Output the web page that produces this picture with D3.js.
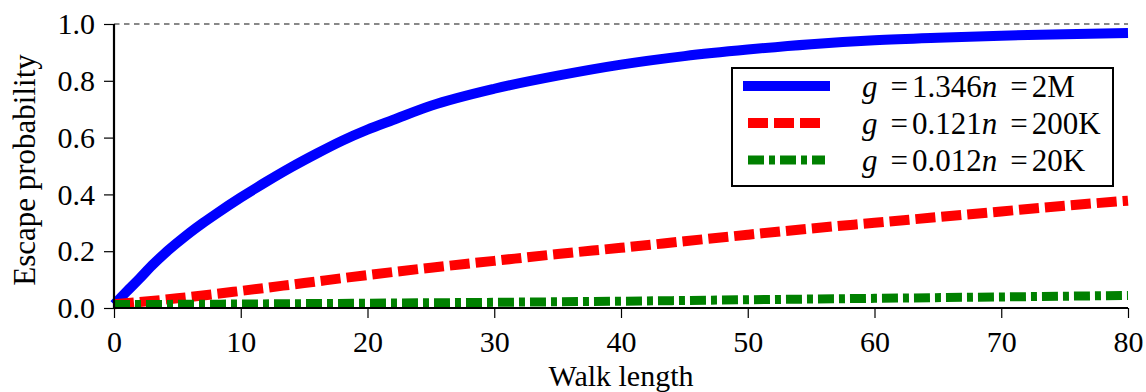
<!DOCTYPE html>
<html>
<head>
<meta charset="utf-8">
<script src="https://cdn.jsdelivr.net/npm/d3@7"></script>
<style>
  body { margin: 0; background: #fff; }
  svg { display: block; font-family: "Liberation Serif", "Times New Roman", serif; }
</style>
</head>
<body>
<div id="vis"></div>
<script>
// data
var walkBlue = [0, 1, 2, 3, 4, 5, 6, 7, 8, 9, 10, 12, 14, 16, 18, 20, 22, 25, 30, 35, 40, 45, 50, 55, 60, 65, 70, 75, 80];
var probBlue = [0.012, 0.058, 0.103, 0.15, 0.192, 0.23, 0.266, 0.299, 0.33, 0.36, 0.389, 0.444, 0.496, 0.544, 0.589, 0.628, 0.662, 0.712, 0.772, 0.818, 0.857, 0.887, 0.91, 0.929, 0.943, 0.952, 0.959, 0.964, 0.968];
var walkRed = [0, 5, 10, 15, 20, 25, 30, 35, 40, 45, 50, 55, 60, 65, 70, 75, 80];
var probRed = [0.013, 0.034, 0.06, 0.088, 0.116, 0.142, 0.166, 0.19, 0.212, 0.235, 0.258, 0.28, 0.30, 0.32, 0.34, 0.36, 0.378];
var walkGreen = [0, 10, 20, 30, 40, 50, 60, 70, 80];
var probGreen = [0.012, 0.014, 0.017, 0.02, 0.024, 0.029, 0.034, 0.039, 0.044];
var xTicks = [0, 10, 20, 30, 40, 50, 60, 70, 80];
var yTicks = [0.0, 0.2, 0.4, 0.6, 0.8, 1.0];
var seriesLabels = [
  ["g", "=", "1.346", "n", "=", "2M"],
  ["g", "=", "0.121", "n", "=", "200K"],
  ["g", "=", "0.012", "n", "=", "20K"]
];

var width = 1146;
var height = 392;
var margin = { top: 24, right: 18, bottom: 84, left: 114 };

var svg = d3.select('#vis').append('svg')
  .attr('width', width)
  .attr('height', height);

var x = d3.scaleLinear().domain([0, 80]).range([margin.left, width - margin.right]);
var y = d3.scaleLinear().domain([0, 1]).range([height - margin.bottom, margin.top]);

var series = [
  { xs: walkBlue, ys: probBlue, color: '#0000ff', w: 10, dash: null },
  { xs: walkRed, ys: probRed, color: '#ff0000', w: 10, dash: '20,6' },
  { xs: walkGreen, ys: probGreen, color: '#008000', w: 9, dash: '16,5,6,5' }
];

// reference line at 1.0
svg.append('line')
  .attr('x1', x(0)).attr('x2', x(80))
  .attr('y1', y(1)).attr('y2', y(1))
  .attr('stroke', '#888')
  .attr('stroke-width', 2.2)
  .attr('stroke-dasharray', '5.5,4.5');

var line = d3.line()
  .x(function (d) { return x(d[0]); })
  .y(function (d) { return y(d[1]); })
  .curve(d3.curveMonotoneX);

series.forEach(function (s) {
  var pts = s.xs.map(function (v, i) { return [v, s.ys[i]]; });
  svg.append('path')
    .datum(pts)
    .attr('d', line)
    .attr('fill', 'none')
    .attr('stroke', s.color)
    .attr('stroke-width', s.w)
    .attr('stroke-dasharray', s.dash);
});

// axes
var xAxis = d3.axisBottom(x).tickValues(xTicks).tickSize(10).tickPadding(13).tickFormat(d3.format('d'));
var yAxis = d3.axisLeft(y).tickValues(yTicks).tickSize(10).tickPadding(9).tickFormat(d3.format('.1f'));

var gx = svg.append('g')
  .attr('transform', 'translate(0,' + y(0) + ')')
  .call(xAxis);
var gy = svg.append('g')
  .attr('transform', 'translate(' + x(0) + ',0)')
  .call(yAxis);

[gx, gy].forEach(function (g) {
  g.attr('font-family', null).attr('font-size', null);
  g.select('.domain').attr('stroke', '#000').attr('stroke-width', 2.2);
  g.selectAll('.tick line').attr('stroke', '#000').attr('stroke-width', 1.2);
  g.selectAll('.tick text')
    .attr('fill', '#000')
    .style('font-family', '"Liberation Serif", serif')
    .style('font-size', '30px');
});
gx.select('.domain').attr('d', 'M' + x(0) + ',0H' + x(80));
gy.select('.domain').attr('d', 'M0,' + y(0) + 'V' + y(1));

// axis titles
svg.append('text')
  .attr('x', (x(0) + x(80)) / 2)
  .attr('y', 386)
  .attr('text-anchor', 'middle')
  .style('font-size', '30px')
  .text('Walk length');

svg.append('text')
  .attr('transform', 'translate(35,170) rotate(-90)')
  .attr('text-anchor', 'middle')
  .style('font-size', '31px')
  .text('Escape probability');

// legend
var legend = svg.append('g');
legend.append('rect')
  .attr('x', 732).attr('y', 68)
  .attr('width', 381).attr('height', 118)
  .attr('fill', '#fff')
  .attr('stroke', '#000')
  .attr('stroke-width', 2);

var rowY = [86, 123, 160];
var lineX = [[743, 830], [748, 823], [748, 825]];
// gap before each part of the label
var partGap = [0, 13, 4, 0, 13, 4];

series.forEach(function (s, i) {
  legend.append('line')
    .attr('x1', lineX[i][0]).attr('x2', lineX[i][1])
    .attr('y1', rowY[i]).attr('y2', rowY[i])
    .attr('stroke', s.color)
    .attr('stroke-width', s.w)
    .attr('stroke-dasharray', s.dash);

  var t = legend.append('text')
    .attr('x', 862)
    .attr('y', rowY[i] + 11)
    .style('font-size', '31px');
  seriesLabels[i].forEach(function (part, j) {
    t.append('tspan')
      .attr('dx', partGap[j])
      .style('font-style', (j === 0 || j === 3) ? 'italic' : 'normal')
      .text(part);
  });
});
</script>
</body>
</html>
